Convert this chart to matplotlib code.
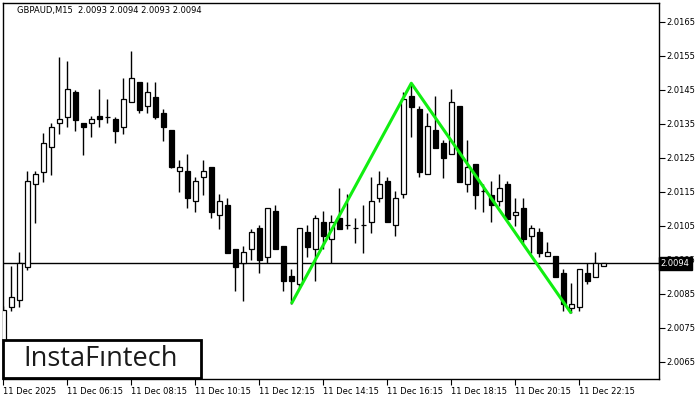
import numpy as np
import matplotlib
matplotlib.use("Agg")
import matplotlib.pyplot as plt
import matplotlib.transforms as mtransforms
from matplotlib.patches import Rectangle

# GBPAUD M15 candles
opens = [2.00700, 2.00810, 2.00831, 2.00929, 2.01172, 2.01209, 2.01281, 2.01351, 2.01371, 2.01444,
         2.01351, 2.01351, 2.01373, 2.01370, 2.01363, 2.01341, 2.01413, 2.01472, 2.01402, 2.01429,
         2.01381, 2.01331, 2.01211, 2.01211, 2.01122, 2.01192, 2.01222, 2.01081, 2.01111, 2.00981,
         2.00939, 2.00981, 2.01042, 2.00959, 2.01092, 2.00990, 2.00902, 2.00879, 2.01031, 2.00981,
         2.01060, 2.01010, 2.01072, 2.01051, 2.01042, 2.01051, 2.01060, 2.01131, 2.01181, 2.01051,
         2.01142, 2.01432, 2.01393, 2.01201, 2.01331, 2.01293, 2.01260, 2.01402, 2.01172, 2.01231,
         2.01151, 2.01141, 2.01122, 2.01172, 2.01081, 2.01101, 2.01021, 2.01032, 2.00960, 2.00960,
         2.00910, 2.00809, 2.00810, 2.00910, 2.00900, 2.00930]
highs = [2.00814, 2.00932, 2.00973, 2.01211, 2.01211, 2.01322, 2.01351, 2.01545, 2.01535, 2.01449,
         2.01352, 2.01373, 2.01452, 2.01422, 2.01371, 2.01485, 2.01565, 2.01472, 2.01472, 2.01472,
         2.01392, 2.01331, 2.01243, 2.01261, 2.01192, 2.01243, 2.01222, 2.01142, 2.01131, 2.00981,
         2.00990, 2.01041, 2.01052, 2.01101, 2.01111, 2.00990, 2.00922, 2.01042, 2.01052, 2.01081,
         2.01092, 2.01081, 2.01160, 2.01143, 2.01073, 2.01111, 2.01192, 2.01211, 2.01192, 2.01151,
         2.01442, 2.01469, 2.01403, 2.01382, 2.01431, 2.01302, 2.01452, 2.01402, 2.01302, 2.01231,
         2.01172, 2.01181, 2.01201, 2.01181, 2.01131, 2.01132, 2.01052, 2.01042, 2.01002, 2.00960,
         2.00923, 2.00881, 2.00923, 2.00939, 2.00973, 2.00940]
lows = [2.00660, 2.00800, 2.00810, 2.00920, 2.01059, 2.01179, 2.01199, 2.01320, 2.01341, 2.01329,
        2.01258, 2.01312, 2.01341, 2.01351, 2.01292, 2.01320, 2.01413, 2.01381, 2.01381, 2.01363,
        2.01300, 2.01220, 2.01150, 2.01101, 2.01091, 2.01140, 2.01072, 2.01041, 2.00971, 2.00859,
        2.00829, 2.00949, 2.00910, 2.00939, 2.00981, 2.00859, 2.00820, 2.00869, 2.00959, 2.00888,
        2.00981, 2.00939, 2.01041, 2.01040, 2.01000, 2.00971, 2.01029, 2.01121, 2.01060, 2.01021,
        2.01131, 2.01312, 2.01192, 2.01201, 2.01279, 2.01191, 2.01260, 2.01179, 2.01150, 2.01100,
        2.01091, 2.01060, 2.01109, 2.01071, 2.01050, 2.01000, 2.00969, 2.00959, 2.00960, 2.00900,
        2.00800, 2.00792, 2.00800, 2.00879, 2.00900, 2.00930]
closes = [2.00802, 2.00839, 2.00939, 2.01181, 2.01201, 2.01292, 2.01341, 2.01363, 2.01451, 2.01361,
          2.01341, 2.01363, 2.01363, 2.01371, 2.01329, 2.01422, 2.01484, 2.01390, 2.01442, 2.01371,
          2.01341, 2.01222, 2.01222, 2.01131, 2.01181, 2.01211, 2.01091, 2.01122, 2.00971, 2.00929,
          2.00972, 2.01031, 2.00950, 2.01101, 2.00981, 2.00888, 2.00888, 2.01042, 2.00988, 2.01072,
          2.01021, 2.01060, 2.01041, 2.01051, 2.01042, 2.01051, 2.01122, 2.01172, 2.01060, 2.01131,
          2.01423, 2.01400, 2.01209, 2.01342, 2.01279, 2.01250, 2.01413, 2.01179, 2.01222, 2.01141,
          2.01151, 2.01110, 2.01160, 2.01071, 2.01091, 2.01010, 2.01042, 2.00971, 2.00972, 2.00900,
          2.00819, 2.00820, 2.00923, 2.00888, 2.00939, 2.00940]

# double top pattern: bar index and price of its three points
pattern_idx = [36, 51, 71]
pattern_price = [2.00820, 2.01469, 2.00792]

bid = 2.0094
time_labels = ["11 Dec 2025", "11 Dec 06:15", "11 Dec 08:15", "11 Dec 10:15", "11 Dec 12:15",
               "11 Dec 14:15", "11 Dec 16:15", "11 Dec 18:15", "11 Dec 20:15", "11 Dec 22:15"]
price_ticks = [2.0065, 2.0075, 2.0085, 2.0095, 2.0105, 2.0115, 2.0125, 2.0135, 2.0145, 2.0155, 2.0165]

o = np.array(opens)
h = np.array(highs)
l = np.array(lows)
c = np.array(closes)
x = np.arange(len(o))

fig = plt.figure(figsize=(7, 4), dpi=100)
ax = fig.add_axes([3 / 700, 21 / 400, 656 / 700, 375.7 / 400])

# wicks then bodies
ax.vlines(x, l, h, color="black", lw=1, zorder=2)
body = np.maximum(np.abs(c - o), 0.000004)
colors = ["white" if cc >= oo else "black" for oo, cc in zip(o, c)]
ax.bar(x, body, bottom=np.minimum(o, c), width=0.62, color=colors,
       edgecolor="black", linewidth=0.9, zorder=3)

ax.axhline(bid, color="black", lw=1, zorder=1)
ax.plot(pattern_idx, pattern_price, color="#11ee11", lw=2.2, zorder=4,
        solid_capstyle="butt")

ax.set_xlim(-0.0375, 81.96)
ax.set_ylim(2.005991, 2.017041)

ax.set_xticks(x[::8])
ax.set_xticklabels(time_labels, ha="left", fontsize=6)
ax.yaxis.tick_right()
ax.set_yticks(price_ticks)
ax.set_yticklabels([f"{p:.4f}" for p in price_ticks], fontsize=6)
ax.tick_params(axis="x", direction="out", length=4, width=0.8, pad=1.5)
ax.tick_params(axis="y", direction="out", length=4, width=0.8, pad=1)
for s in ax.spines.values():
    s.set_linewidth(1)

# bid price tag on the right scale
trans = mtransforms.blended_transform_factory(ax.transAxes, ax.transData)
ax.text(1.0025, bid, f"{bid:.4f}", transform=trans, ha="left", va="center",
        fontsize=6, color="white", zorder=10, clip_on=False,
        bbox=dict(boxstyle="square,pad=0.25", fc="black", ec="black"))

fig.text(17 / 700, 1 - 11 / 400, "GBPAUD,M15  2.0093 2.0094 2.0093 2.0094",
         fontsize=6, va="center", ha="left")

# logo box
fig.patches.append(Rectangle((3 / 700, 22 / 400), 198 / 700, 38 / 400,
                             transform=fig.transFigure, fc="white", ec="black",
                             lw=2, zorder=20))
fig.text(23 / 700, 1 - 359 / 400, "InstaFıntech", fontsize=19.5, family="Open Sans",
         weight="medium", color="#1a1a1a", va="center", ha="left", zorder=21)

fig.savefig("out.png", dpi=100)
